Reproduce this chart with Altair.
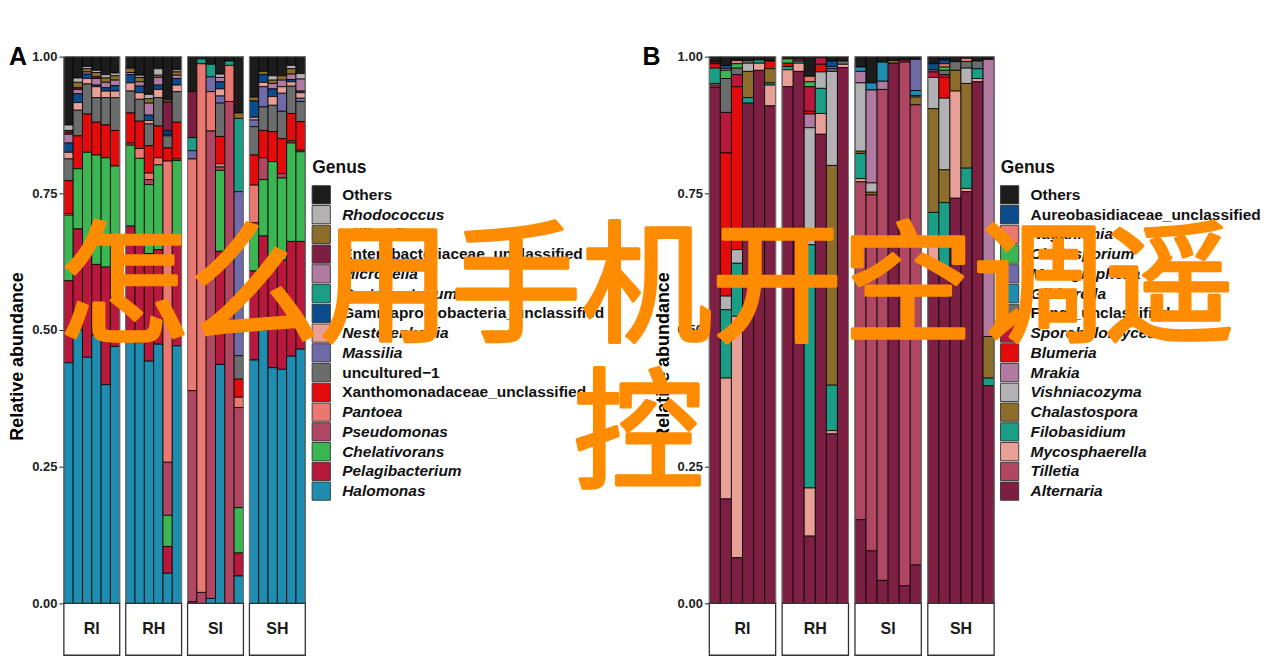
import altair as alt
import pandas as pd

GROUPS = ["RI", "RH", "SI", "SH"]

# ---------------- Panel A (bacteria) ----------------
A_GENUS = ["Others", "Rhodococcus", "Aliihoeflea", "Enterobacteriaceae_unclassified",
           "Microcella", "Curtobacterium", "Gammaproteobacteria_unclassified",
           "Nesterenkonia", "Massilia", "uncultured\u22121", "Xanthomonadaceae_unclassified",
           "Pantoea", "Pseudomonas", "Chelativorans", "Pelagibacterium", "Halomonas"]
A_ITALIC = [False, True, True, False, True, True, False, True, True, False, False,
            True, True, True, True, True]
A_COLORS = ["#1c1c1c", "#b3b1b4", "#8c6d2c", "#7d1f42", "#b07aa1", "#1a9e86", "#0b4c8c",
            "#e8a096", "#6f6aa8", "#6b6d6d", "#e30b0b", "#e87870", "#b04762", "#3cb652",
            "#b8183c", "#1f8db0"]

# each row: one sample, values in legend order (Others ... Halomonas)
A_RI = [
    [.125, .01, .003, .004, .016, 0, .017, .012, 0, .04, .06, .003, 0, .12, .15, .44],
    [.039, .008, .01, .003, .008, 0, .016, .014, 0, .047, .06, 0, 0, .11, .185, .50],
    [.018, .004, .006, 0, .004, 0, .008, .01, 0, .055, .07, 0, 0, .185, .19, .45],
    [.025, .004, .008, .003, .012, 0, .003, .02, 0, .045, .06, 0, 0, .20, .13, .49],
    [.033, .006, .008, 0, .01, 0, .006, .012, 0, .05, .06, 0, 0, .20, .215, .40],
    [.03, .005, .008, 0, .01, 0, .01, .012, 0, .06, .065, 0, 0, .19, .14, .47],
]
A_RH = [
    [.021, 0, .008, 0, .004, 0, .015, .015, 0, .04, .055, 0, .004, .148, .21, .48],
    [.034, .004, .008, 0, .008, 0, .012, .012, 0, .04, .05, .018, 0, .154, .183, .477],
    [.069, .008, .008, 0, .022, 0, .01, .006, 0, .04, .05, .012, .009, .126, .197, .443],
    [.022, .012, .004, 0, .014, 0, .008, .015, 0, .052, .058, .013, 0, .155, .173, .474],
    [.079, 0, .004, .053, 0, 0, .006, 0, .003, .022, .024, .551, .097, .057, .049, .055],
    [.024, .004, .006, 0, .006, 0, .012, .012, 0, .056, .067, 0, .003, .148, .191, .471],
]
A_SI = [
    [.064, 0, 0, .084, 0, .024, 0, 0, .015, 0, 0, .424, .386, 0, .003, 0],
    [.004, 0, 0, 0, 0, .009, 0, 0, 0, 0, 0, .967, .02, 0, 0, 0],
    [.014, 0, 0, 0, 0, .023, 0, 0, .027, 0, 0, .072, .855, 0, 0, .009],
    [.032, .006, 0, 0, .008, 0, .013, .013, .013, .061, .05, .006, .006, .148, .207, .437],
    [.008, 0, 0, 0, 0, .008, 0, 0, 0, 0, 0, .066, .918, 0, 0, 0],
    [.103, 0, .01, 0, 0, .134, 0, 0, .30, .043, .033, .019, .183, .083, .042, .05],
]
A_SH = [
    [.074, 0, .007, 0, 0, 0, .03, .005, .012, .052, .055, .069, .009, .079, .163, .445],
    [.027, 0, .006, 0, 0, 0, .014, .008, .037, .043, .05, 0, .04, .103, .172, .50],
    [.035, .008, .006, 0, .01, 0, .014, .016, 0, .048, .055, 0, 0, .179, .198, .431],
    [.035, 0, .008, 0, .012, 0, 0, .012, .033, .05, .064, 0, .008, .15, .20, .428],
    [.016, .006, .01, 0, .01, 0, .004, .008, 0, .05, .05, 0, .004, .18, .21, .452],
    [.031, .01, 0, 0, .022, 0, .003, .01, .006, .037, .052, 0, .003, .164, .197, .465],
]

# ---------------- Panel B (fungi) ----------------
B_GENUS = ["Others", "Aureobasidiaceae_unclassified", "Naganishia", "Cladosporium",
           "Monographella", "Gibberella", "Fungi_unclassified", "Sporobolomyces",
           "Blumeria", "Mrakia", "Vishniacozyma", "Chalastospora", "Filobasidium",
           "Mycosphaerella", "Tilletia", "Alternaria"]
B_ITALIC = [False, False, True, True, True, True, False, True, True, True, True, True,
            True, True, True, True]
B_COLORS = ["#1c1c1c", "#0b4c8c", "#e87870", "#3cb652", "#6f6aa8", "#1f8db0", "#6b6d6d",
            "#b8183c", "#e30b0b", "#b07aa1", "#b3b1b4", "#8c6d2c", "#1a9e86", "#e8a096",
            "#b04762", "#7d1f42"]

B_RI = [
    [.01, 0, 0, 0, 0, 0, 0, .003, .008, 0, 0, 0, .028, .003, .004, .944],
    [.016, .006, .003, .015, 0, 0, .062, .074, .262, 0, .025, 0, .125, .221, 0, .191],
    [.005, .002, .006, .008, 0, 0, .012, .022, .298, 0, .025, 0, .097, .4415, 0, .0835],
    [.007, 0, 0, 0, 0, 0, .005, 0, 0, 0, .015, .048, .01, 0, 0, .915],
    [.006, 0, 0, 0, 0, 0, 0, 0, 0, 0, 0, 0, .006, .013, 0, .975],
    [.008, 0, 0, 0, 0, 0, 0, 0, .014, 0, 0, .026, .004, .038, 0, .91],
]
B_RH = [
    [.004, 0, 0, .008, 0, 0, 0, 0, .006, 0, 0, 0, .006, .031, 0, .945],
    [.004, 0, 0, 0, 0, 0, 0, .004, 0, 0, 0, 0, .004, .015, 0, .973],
    [.036, 0, .01, .009, 0, 0, 0, .045, .005, .025, .214, 0, .445, .088, 0, .123],
    [.002, 0, 0, 0, 0, 0, 0, .012, .014, 0, .03, 0, .046, .038, 0, .858],
    [.008, .01, 0, 0, 0, .004, .005, 0, 0, 0, .172, .402, .083, .006, 0, .31],
    [.008, 0, 0, 0, 0, 0, .006, 0, 0, 0, 0, 0, 0, .006, 0, .98],
]
B_SI = [
    [.019, 0, 0, 0, 0, .008, 0, 0, 0, .021, .125, .004, .046, .006, .618, .153],
    [.048, 0, 0, 0, 0, .013, 0, 0, 0, .17, .017, .005, 0, 0, .651, .096],
    [.01, 0, 0, 0, 0, .035, 0, 0, 0, .015, 0, 0, 0, 0, .898, .042],
    [.007, 0, 0, 0, 0, 0, 0, 0, 0, 0, 0, .005, 0, 0, 0, .988],
    [.006, 0, 0, 0, 0, 0, 0, .004, 0, 0, 0, 0, 0, 0, .958, .032],
    [.005, 0, 0, 0, .057, .009, .003, 0, 0, 0, 0, .014, 0, 0, .842, .07],
]
B_SH = [
    [.013, .011, 0, 0, 0, 0, .004, .01, 0, 0, .057, .19, .057, .042, 0, .616],
    [.006, .007, .006, .006, 0, 0, .008, .005, .038, 0, .131, .06, .133, 0, 0, .60],
    [.009, 0, 0, 0, 0, 0, .016, 0, 0, 0, 0, .038, 0, .196, 0, .741],
    [.003, 0, .006, 0, 0, 0, .012, 0, 0, 0, .028, .155, .037, .006, 0, .753],
    [.008, 0, 0, 0, 0, 0, .014, 0, 0, 0, 0, 0, .018, .006, 0, .954],
    [.005, 0, 0, 0, 0, 0, 0, 0, 0, .507, 0, .076, .014, 0, 0, .398],
]

Y_TICKS = [0, 0.25, 0.5, 0.75, 1.0]
OVERLAY_LINE1 = "怎么用手机开空调遥"
OVERLAY_LINE2 = "控"

H = 600          # cell height (plot + strip box)
PLOT_H = 548     # plot part
YMIN = -(H - PLOT_H) / PLOT_H
FONT = "Liberation Sans"


def long_df(rows, genera, group):
    recs = []
    n = len(genera)
    for i, vals in enumerate(rows):
        for k, v in enumerate(vals):
            if v > 0:
                recs.append({"sample": f"{group}{i + 1}", "genus": genera[k],
                             "value": v, "ord": n - 1 - k})
    return pd.DataFrame(recs)


def group_chart(rows, genera, colors, group, width, first=False, letter=None):
    df = long_df(rows, genera, group)
    yscale = alt.Scale(domain=[YMIN, 1], nice=False, zero=False)
    if first:
        yaxis = alt.Axis(values=Y_TICKS, format=".2f", title="Relative abundance",
                         domain=False, grid=False, ticks=True, tickSize=5,
                         tickColor="#222", tickWidth=1, labelFontSize=13,
                         labelFontWeight="bold", labelColor="#222", labelPadding=2,
                         titleFontSize=18, titleFontWeight="bold", titleColor="#000",
                         titlePadding=5)
    else:
        yaxis = None
    bars = alt.Chart(df).mark_bar(stroke="black", strokeWidth=0.8).encode(
        x=alt.X("sample:N", axis=None,
                scale=alt.Scale(paddingInner=0, paddingOuter=0)),
        y=alt.Y("value:Q", stack="zero", scale=yscale, axis=yaxis),
        color=alt.Color("genus:N", scale=alt.Scale(domain=genera, range=colors),
                        legend=None),
        order=alt.Order("ord:Q", sort="ascending"),
    )
    lab = pd.DataFrame({"g": [group]})
    frame = alt.Chart(lab).mark_rect(fillOpacity=0, stroke="#7a7a7a", strokeWidth=1).encode(
        x=alt.value(0), x2=alt.value(width),
        y=alt.Y(datum=1, type="quantitative", scale=yscale, axis=yaxis),
        y2=alt.Y2(datum=0),
    )
    box = alt.Chart(lab).mark_rect(fill="white", stroke="#333", strokeWidth=1.3).encode(
        x=alt.value(0), x2=alt.value(width),
        y=alt.Y(datum=0, type="quantitative", scale=yscale, axis=yaxis),
        y2=alt.Y2(datum=YMIN),
    )
    txt = alt.Chart(lab).mark_text(fontSize=16, fontWeight="bold", color="#1a1a1a",
                                   baseline="middle", align="center").encode(
        x=alt.value(width / 2),
        y=alt.Y(datum=YMIN / 2, type="quantitative", scale=yscale, axis=yaxis),
        text="g:N",
    )
    layers = [bars, frame, box, txt]
    if letter is not None:
        let = alt.Chart(lab).mark_text(fontSize=25, fontWeight="bold", color="#000",
                                       align="left", baseline="middle").encode(
            x=alt.value(letter[1]),
            y=alt.Y(datum=1, type="quantitative", scale=yscale, axis=yaxis),
            text=alt.value(letter[0]),
        )
        layers.append(let)
    return alt.layer(*layers).properties(width=width, height=H)


def legend_chart(genera, colors, italic, width, sym_x, lab_x, overlay=False):
    n = len(genera)
    ldf = pd.DataFrame({"genus": genera, "row": list(range(n)), "it": italic})
    row0 = 138.5
    step = 19.8
    ysc = alt.Scale(domain=[-row0 / step, (H - row0) / step], reverse=True,
                    nice=False, zero=False)
    cscale = alt.Scale(domain=genera, range=colors)
    base = alt.Chart(ldf)
    sq = base.mark_square(size=335, opacity=1, stroke="#333", strokeWidth=0.9).encode(
        x=alt.value(sym_x),
        y=alt.Y("row:Q", scale=ysc, axis=None),
        color=alt.Color("genus:N", scale=cscale, legend=None),
    )
    lab_it = base.transform_filter("datum.it").mark_text(
        align="left", baseline="middle", fontSize=15.5, fontWeight="bold",
        fontStyle="italic", color="#111").encode(
        x=alt.value(lab_x), y=alt.Y("row:Q", scale=ysc, axis=None), text="genus:N")
    lab_no = base.transform_filter("!datum.it").mark_text(
        align="left", baseline="middle", fontSize=15.5, fontWeight="bold",
        color="#111").encode(
        x=alt.value(lab_x), y=alt.Y("row:Q", scale=ysc, axis=None), text="genus:N")
    ttl = alt.Chart(pd.DataFrame({"t": ["Genus"]})).mark_text(
        align="left", baseline="middle", fontSize=17.5, fontWeight="bold",
        color="#111").encode(
        x=alt.value(sym_x - 9), y=alt.Y(datum=-1.34, type="quantitative", scale=ysc, axis=None),
        text="t:N")
    layers = [sq, lab_it, lab_no, ttl]
    if overlay:
        odf = pd.DataFrame({"t": [OVERLAY_LINE1, OVERLAY_LINE2],
                            "cx": [-355, -363], "cy": [236, 383]})
        ov = alt.Chart(odf).mark_text(font="Noto Sans CJK SC", fontSize=131,
                                      fontWeight="normal", color="#FF8C00",
                                      stroke="#FF8C00", strokeWidth=3.5,
                                      strokeJoin="round",
                                      align="center", baseline="middle").encode(
            x=alt.X("cx:Q", scale=None), y=alt.Y("cy:Q", scale=None), text="t:N")
        layers.append(ov)
    return alt.layer(*layers).properties(width=width, height=H)


A_DATA = [A_RI, A_RH, A_SI, A_SH]
B_DATA = [B_RI, B_RH, B_SI, B_SH]
WA = 56
WB = 66.5

cells = []
for i, (g, rows) in enumerate(zip(GROUPS, A_DATA)):
    cells.append(group_chart(rows, A_GENUS, A_COLORS, g, WA, first=(i == 0),
                             letter=("A", -55) if i == 0 else None))
cells.append(legend_chart(A_GENUS, A_COLORS, A_ITALIC, 393, 10, 31))
for i, (g, rows) in enumerate(zip(GROUPS, B_DATA)):
    cells.append(group_chart(rows, B_GENUS, B_COLORS, g, WB, first=(i == 0),
                             letter=("B", -67) if i == 0 else None))
cells.append(legend_chart(B_GENUS, B_COLORS, B_ITALIC, 260, 9, 30, overlay=True))

chart = alt.hconcat(*cells, spacing=6, bounds="flush").resolve_scale(
    color="independent", x="independent", y="independent"
).properties(
    padding={"left": 0, "top": 35, "right": 0, "bottom": 0}
).configure(font=FONT).configure_view(stroke="transparent")

chart.save("out.html", embed_options={"renderer": "svg", "actions": False})
